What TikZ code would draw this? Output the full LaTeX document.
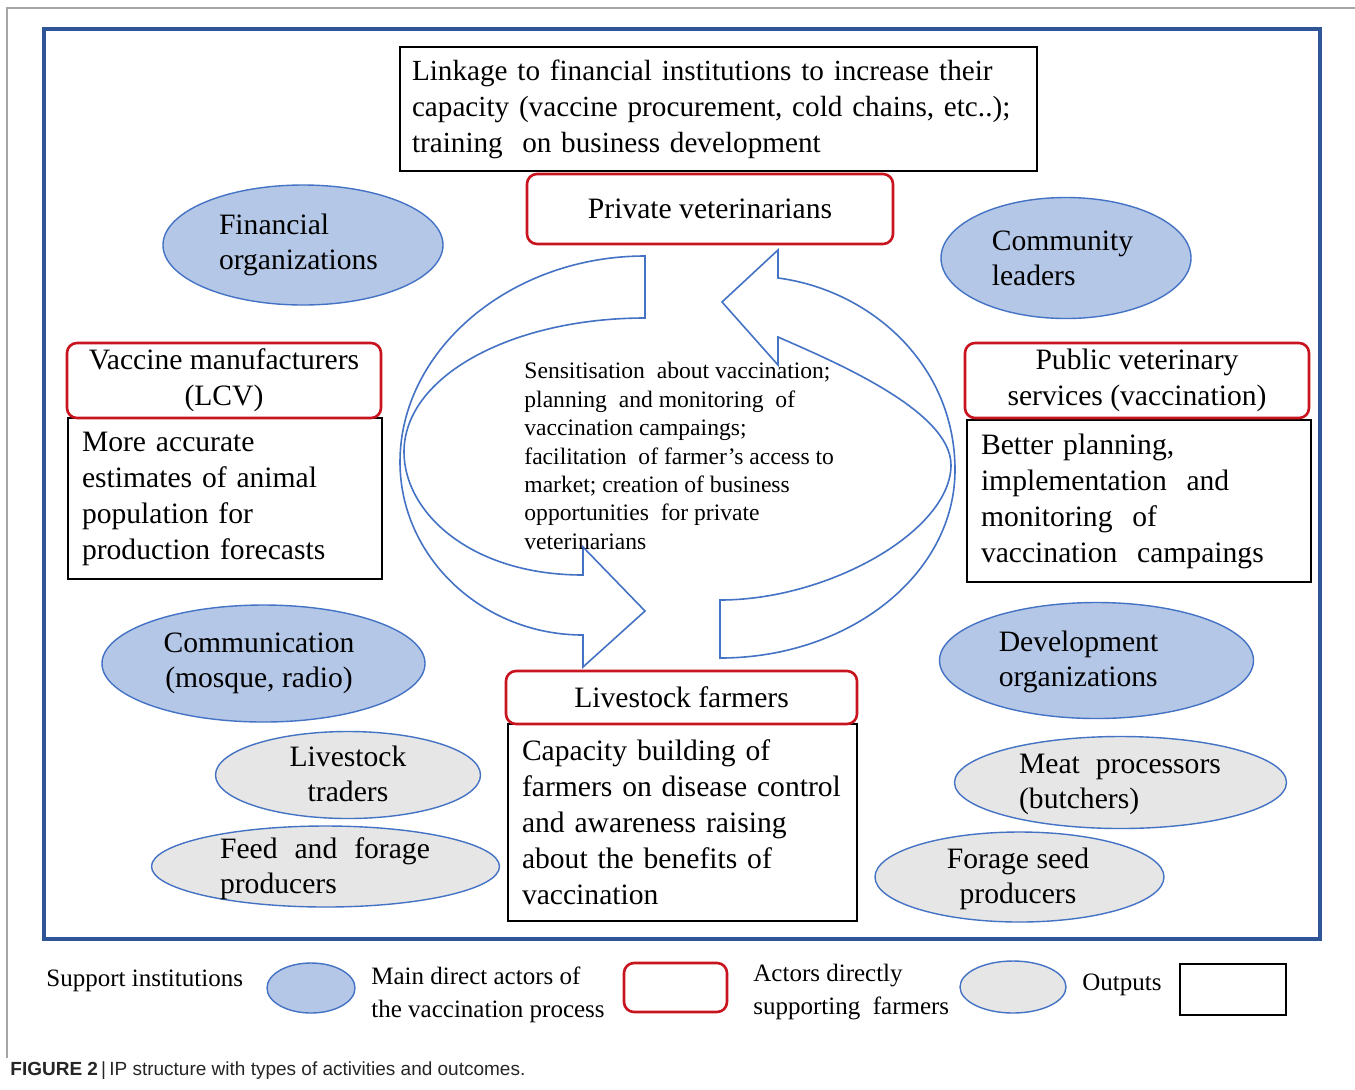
\documentclass[tikz,border=0pt]{standalone}
\usepackage{fontspec}
\setmainfont{Liberation Serif}
\newfontfamily\capfont{Liberation Sans}
\usetikzlibrary{shapes.geometric}
\definecolor{frameblue}{HTML}{2F5597}
\definecolor{arrowblue}{HTML}{4472C4}
\definecolor{suppfill}{HTML}{B4C7E7}
\definecolor{outfill}{HTML}{E6E6E6}
\definecolor{actred}{HTML}{C8141E}
\newcommand\fsbody{\fontsize{14.8}{18}\selectfont}
\newcommand\fstop{\fontsize{14.6}{18}\selectfont}
\newcommand\fsell{\fontsize{14.8}{17.5}\selectfont}
\newcommand\fscenter{\fontsize{11.8}{14.2}\selectfont}
\newcommand\fslegend{\fontsize{12.5}{16.5}\selectfont}
\begin{document}
\begin{tikzpicture}[x=0.5pt,y=-0.5pt,
  outbox/.style={draw=black, line width=0.8pt, rectangle, inner xsep=7pt, inner ysep=0pt, align=left, font=\fsbody},
  actor/.style={draw=actred, line width=1.3pt, rounded corners=5pt, inner sep=0pt, align=center, font=\fsbody},
  supp/.style={ellipse, draw=arrowblue, line width=0.7pt, fill=suppfill, inner sep=0pt},
  dirsup/.style={ellipse, draw=arrowblue, line width=0.7pt, fill=outfill, inner sep=0pt},
  lbl/.style={font=\fsell, inner sep=0pt},
  leg/.style={font=\fslegend, inner sep=0pt, anchor=west, align=left},
  bigarrow/.style={draw=arrowblue, line width=0.8pt, line join=miter},
]
\useasboundingbox (0,0) rectangle (1355,1089);
\fill[white] (0,0) rectangle (1355,1089);
\draw[gray!70, line width=0.6pt] (7,1058) -- (7,8) -- (1355,8);
\draw[frameblue, line width=2pt] (44,29) rectangle (1320,939);

% curved block arrows
\draw[bigarrow] (645,256) .. controls (510,256) and (400,350) .. (400,462)
  .. controls (400,557) and (482,635) .. (583,635) -- (583,667) -- (645,611)
  -- (583,547) -- (583,575) .. controls (470,575) and (404,512) .. (404,452)
  .. controls (404,376) and (512,318) .. (645,318) -- cycle;
\draw[bigarrow] (778,278) .. controls (870,290) and (955,364) .. (955,470)
  .. controls (955,574) and (850,658) .. (720,658) -- (720,600)
  .. controls (830,600) and (951,530) .. (951,465)
  .. controls (951,410) and (830,360) .. (778,337) -- (778,365) -- (722,302)
  -- (778,250) -- cycle;

% top output
\node[outbox, font=\fstop, inner xsep=6pt, text width=306.5pt, minimum height=62pt] (topout) at (718.5,109)
  {Linkage to financial institutions to increase their\\capacity (vaccine procurement, cold chains, etc..);\\training\ \ on business development};

% private veterinarians
\node[actor, minimum width=183pt, minimum height=35pt] (privet) at (710,209) {Private veterinarians};

% vaccine manufacturers
\node[outbox, text width=143pt, minimum height=80.5pt] (vacout) at (225,498.5)
  {More accurate\\estimates of animal\\population for\\production forecasts};
\node[actor, minimum width=157pt, minimum height=37.5pt] (vacman) at (224,380.5) {Vaccine manufacturers\\(LCV)};

% public veterinary services
\node[outbox, text width=158pt, minimum height=81pt] (pubout) at (1139,501)
  {Better planning,\\implementation\ \ and\\monitoring\ \ of\\vaccination\ \ campaings};
\node[actor, minimum width=172pt, minimum height=37.5pt] (pubvet) at (1137,380.5) {Public veterinary\\services (vaccination)};

% livestock farmers
\node[outbox, text width=160.5pt, minimum height=98.5pt] (farmout) at (682.5,822.5)
  {Capacity building\ of\\farmers on disease control\\and awareness raising\\about the benefits of\\vaccination};
\node[actor, minimum width=175.5pt, minimum height=26.5pt] (farm) at (681.5,697.5) {Livestock farmers};

% support institutions
\node[supp, minimum width=140pt, minimum height=60pt] (fin) at (303,245) {};
\node[lbl, align=left] (fint) at (298.5,244.5) {Financial\\organizations};
\node[supp, minimum width=125pt, minimum height=60.5pt] (comm) at (1066,258) {};
\node[lbl, align=left] (commt) at (1062.5,258.5) {Community\\leaders};
\node[supp, minimum width=161.5pt, minimum height=58.5pt] (media) at (263.5,663.5) {};
\node[lbl, align=center] (mediat) at (259,663) {Communication\\(mosque, radio)};
\node[supp, minimum width=157pt, minimum height=58pt] (dev) at (1096.5,660.5) {};
\node[lbl, align=left] (devt) at (1078.5,661.5) {Development\\organizations};

% actors directly supporting farmers
\node[dirsup, minimum width=132.5pt, minimum height=43.5pt] (trad) at (348,775) {};
\node[lbl, align=center] (tradt) at (348,773.5) {Livestock\\traders};
\node[dirsup, minimum width=174pt, minimum height=40.5pt] (feed) at (325.5,866.5) {};
\node[lbl, align=left] (feedt) at (325,868.5) {Feed\hspace{8.5pt}and\hspace{8.5pt}forage\\producers};
\node[dirsup, minimum width=166pt, minimum height=46pt] (meat) at (1120.5,782.5) {};
\node[lbl, align=left] (meatt) at (1120,784.5) {Meat\hspace{8pt}processors\\(butchers)};
\node[dirsup, minimum width=144.5pt, minimum height=45pt] (seed) at (1019.5,877) {};
\node[lbl, align=center] (seedt) at (1018,878.5) {Forage seed\\producers};

% central activities
\node[font=\fscenter, align=left, anchor=west, inner sep=0pt] (act) at (524,456)
  {Sensitisation\ \ about vaccination;\\planning\ \ and monitoring\ \ of\\vaccination campaings;\\facilitation\ \ of farmer’s access to\\market; creation of business\\opportunities\ \ for private\\veterinarians};

% legend
\node[leg] (l1) at (46,981) {Support institutions};
\node[supp, minimum width=44pt, minimum height=25pt] (k1) at (311,988) {};
\node[leg] (l2) at (371,994.5) {Main direct actors of\\the vaccination process};
\node[draw=actred, line width=1.3pt, rounded corners=5pt, inner sep=0pt, minimum width=51.5pt, minimum height=24.5pt] (k2) at (675.5,987.5) {};
\node[leg] (l3) at (753,992.5) {Actors directly\\supporting\ \ farmers};
\node[dirsup, minimum width=53pt, minimum height=26pt] (k3) at (1013,987) {};
\node[leg] (l4) at (1082,985) {Outputs};
\node[draw=black, line width=0.8pt, inner sep=0pt, minimum width=53pt, minimum height=25.5pt] (k4) at (1233,989.5) {};

% caption
\node[anchor=west, inner sep=0pt, text=black!85, font=\capfont\fontsize{9.5}{11}\selectfont] (cap) at (10,1071)
  {\textbf{FIGURE 2}\,|\,IP structure with types of activities and outcomes.};
\end{tikzpicture}
\end{document}
